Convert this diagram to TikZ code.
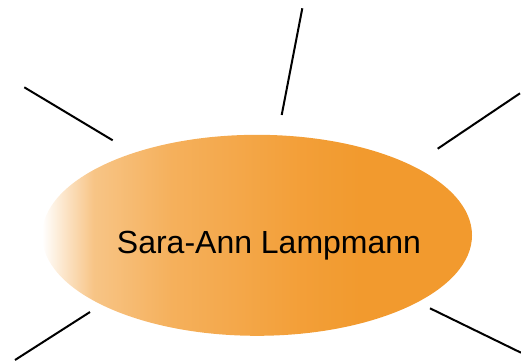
\documentclass[tikz,border=0pt]{standalone}
\usepackage{fontspec}
\setmainfont{Liberation Sans}
\usetikzlibrary{shapes.geometric}
\definecolor{orng}{HTML}{F29A2E}
\pgfdeclarehorizontalshading{bubbleshade}{100bp}{%
  color(0bp)=(white);
  color(25bp)=(white);
  color(28bp)=(orng!30);
  color(31bp)=(orng!58);
  color(40bp)=(orng!78);
  color(55bp)=(orng!95);
  color(62bp)=(orng);
  color(100bp)=(orng)}
\tikzset{
  spoke/.style={line width=2pt, black},
  bubble/.style={ellipse, draw=none, shading=bubbleshade, minimum width=430pt, minimum height=201pt, inner sep=0pt},
  label text/.style={font=\fontsize{32}{36}\selectfont, anchor=base, inner sep=0pt}
}
\begin{document}
\begin{tikzpicture}[x=1pt,y=-1pt]
\useasboundingbox (0,0) rectangle (521,362);
\node[bubble] (c) at (257,235.3) {};
\node[label text] (t) at (269,253) {Sara-Ann Lampmann};
\coordinate (a1) at (24.3,87.3);
\coordinate (a2) at (112.7,140.3);
\coordinate (b1) at (302.3,8.3);
\coordinate (b2) at (281.7,115);
\coordinate (d1) at (437.7,148.7);
\coordinate (d2) at (520,93.3);
\coordinate (e1) at (15,360);
\coordinate (e2) at (90,312);
\coordinate (f1) at (430,308.3);
\coordinate (f2) at (521,352.7);
\draw[spoke] (a1) -- (a2);
\draw[spoke] (b1) -- (b2);
\draw[spoke] (d1) -- (d2);
\draw[spoke] (e1) -- (e2);
\draw[spoke] (f1) -- (f2);
\end{tikzpicture}
\end{document}
